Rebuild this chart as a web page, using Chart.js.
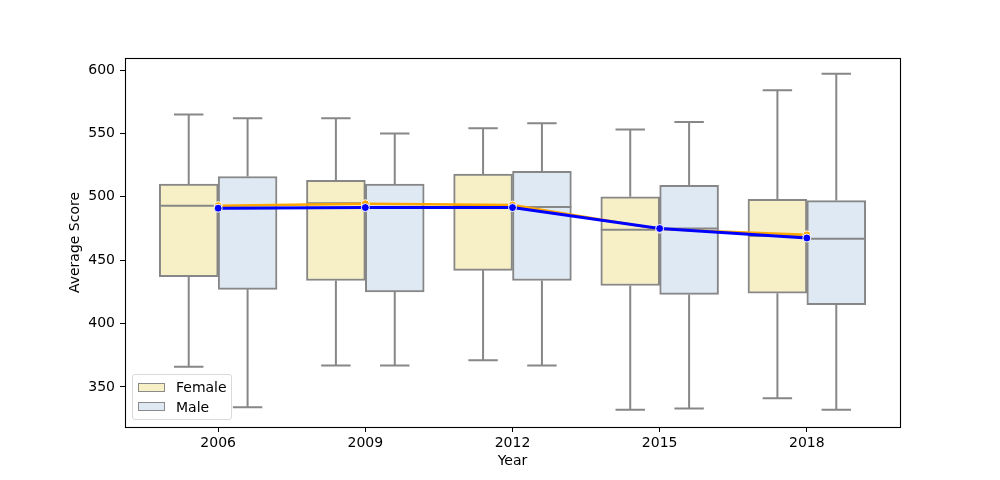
<!DOCTYPE html>
<html><head><meta charset="utf-8">
<script src="https://cdn.jsdelivr.net/npm/chart.js@4"></script>
<style>
html,body{margin:0;padding:0;background:#fff;}
#wrap{position:relative;width:1000px;height:480px;}
#legend{position:absolute;left:132px;top:374px;width:100px;height:46px;border:1px solid #d9d9d9;border-radius:3px;background:rgba(255,255,255,0.8);font-family:'DejaVu Sans',sans-serif;font-size:14px;color:#000;box-sizing:border-box;}
.sw{position:absolute;left:5px;width:27px;height:9px;border:1px solid #8a8a8a;box-sizing:border-box;}
.lb{position:absolute;left:43px;line-height:16px;height:16px;white-space:nowrap;}
</style>
</head><body>
<div id="wrap">
<canvas id="c" width="1000" height="480"></canvas>
<div id="legend">
  <div class="sw" style="top:8px;background:#f7f0c6"></div><div class="lb" style="top:4px">Female</div>
  <div class="sw" style="top:27px;background:#dfe9f3"></div><div class="lb" style="top:24px">Male</div>
</div>
</div>
<script>
const years = ['2006', '2009', '2012', '2015', '2018'];
const yTicks = [350, 400, 450, 500, 550, 600];

const femaleMin    = [366, 367, 371, 332, 341];
const femaleQ1     = [437, 434, 442, 430, 424];
const femaleMedian = [493, 495, 493, 474, 469];
const femaleQ3     = [510, 513, 518, 500, 498];
const femaleMax    = [565, 562, 554, 553, 584];

const maleMin    = [334, 367, 367, 333, 332];
const maleQ1     = [427, 425, 434, 423, 415];
const maleMedian = [491, 492, 492, 475, 467];
const maleQ3     = [516, 510, 520, 509, 497];
const maleMax    = [562, 550, 558, 559, 597];

const femaleMean = [493, 494.5, 493.5, 474.5, 470];
const maleMean   = [491, 491.5, 491.5, 475, 467.5];

const FEMALE_FILL = '#f7f0c6', MALE_FILL = '#dfe9f3', EDGE = '#878787';
const OFF = 0.2, CAP = 0.1, HALF = 0.2;

const groups = [
  {off: -OFF, min: femaleMin, q1: femaleQ1, med: femaleMedian, q3: femaleQ3, max: femaleMax},
  {off:  OFF, min: maleMin,   q1: maleQ1,   med: maleMedian,   q3: maleQ3,   max: maleMax}
];

const segs = [];
function seg(x1, y1, x2, y2) { segs.push({x: x1, y: y1}, {x: x2, y: y2}, {x: null, y: null}); }
years.forEach((_, i) => {
  groups.forEach(g => {
    const c = i + g.off;
    seg(c, g.q3[i], c, g.max[i]);
    seg(c - CAP, g.max[i], c + CAP, g.max[i]);
    seg(c, g.q1[i], c, g.min[i]);
    seg(c - CAP, g.min[i], c + CAP, g.min[i]);
    seg(c - HALF, g.med[i], c + HALF, g.med[i]);
  });
});

const frame = {
  id: 'frame',
  afterDraw(chart) {
    const a = chart.chartArea, ctx = chart.ctx;
    ctx.save();
    ctx.strokeStyle = '#000';
    ctx.lineWidth = 1.1;
    ctx.strokeRect(Math.round(a.left) + 0.5, Math.round(a.top) + 0.5, Math.round(a.right - a.left), Math.round(a.bottom - a.top));
    ctx.restore();
  }
};

new Chart(document.getElementById('c'), {
  type: 'bar',
  data: {
    datasets: [
      {
        type: 'line', label: 'Male mean', order: 0,
        data: maleMean.map((v, i) => ({x: i, y: v})),
        borderColor: '#0000ff', borderWidth: 3,
        pointRadius: 4, pointBackgroundColor: '#0000ff', pointBorderColor: '#ffffff', pointBorderWidth: 1
      },
      {
        type: 'line', label: 'Female mean', order: 1,
        data: femaleMean.map((v, i) => ({x: i, y: v})),
        borderColor: '#ffa500', borderWidth: 2.5,
        pointRadius: 4, pointBackgroundColor: '#ffa500', pointBorderColor: '#ffffff', pointBorderWidth: 1
      },
      {
        type: 'line', label: 'whiskers', order: 2,
        data: segs, spanGaps: false,
        borderColor: EDGE, borderWidth: 2, pointRadius: 0, borderCapStyle: 'butt'
      },
      {
        type: 'bar', label: 'Female', order: 3, grouped: false,
        data: years.map((_, i) => ({x: i - OFF, y: [femaleQ1[i], femaleQ3[i]]})),
        backgroundColor: FEMALE_FILL, borderColor: EDGE, borderWidth: 2, borderSkipped: false,
        categoryPercentage: 1, barPercentage: 1
      },
      {
        type: 'bar', label: 'Male', order: 3, grouped: false,
        data: years.map((_, i) => ({x: i + OFF, y: [maleQ1[i], maleQ3[i]]})),
        backgroundColor: MALE_FILL, borderColor: EDGE, borderWidth: 2, borderSkipped: false,
        categoryPercentage: 1, barPercentage: 1
      }
    ]
  },
  options: {
    responsive: false,
    animation: false,
    devicePixelRatio: 1,
    layout: {padding: {left: 0, right: 100, top: 58, bottom: 0}},
    plugins: {legend: {display: false}, tooltip: {enabled: false}},
    scales: {
      x: {
        type: 'linear', min: -0.633, max: 4.633, offset: false,
        afterFit(s) { s.height = 53; },
        afterBuildTicks(s) { s.ticks = years.map((_, i) => ({value: i})); },
        ticks: {callback: v => years[v], color: '#000', padding: 3, maxRotation: 0, autoSkip: false,
                font: {family: 'DejaVu Sans', size: 14}},
        grid: {display: true, offset: false, drawOnChartArea: false, drawTicks: true, tickLength: 5, tickColor: '#000', tickWidth: 1},
        border: {display: false},
        title: {display: true, text: 'Year', color: '#000', font: {family: 'DejaVu Sans', size: 14}, padding: {bottom: 10}}
      },
      y: {
        type: 'linear', min: 318.4, max: 609.5,
        afterFit(s) { s.width = 125; },
        afterBuildTicks(s) { s.ticks = yTicks.map(v => ({value: v})); },
        ticks: {color: '#000', padding: 5, font: {family: 'DejaVu Sans', size: 14}},
        grid: {display: true, drawOnChartArea: false, drawTicks: true, tickLength: 5, tickColor: '#000', tickWidth: 1},
        border: {display: false},
        title: {display: true, text: 'Average Score', color: '#000', font: {family: 'DejaVu Sans', size: 14}, padding: {top: 67}}
      }
    }
  },
  plugins: [frame]
});
</script>
</body></html>
